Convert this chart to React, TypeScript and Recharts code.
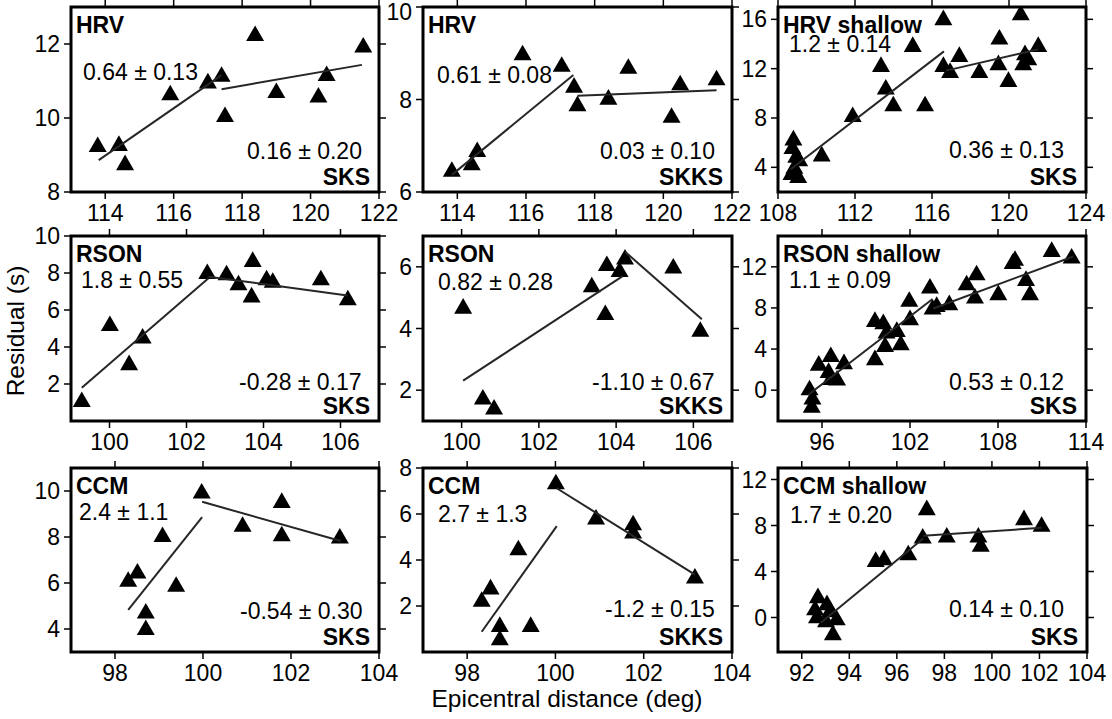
import { ComposedChart, ReferenceArea, Scatter, Symbols, XAxis, YAxis } from 'recharts';

const FONT = '"Liberation Sans", Arial, Helvetica, sans-serif';

// HRV / SKS
const hrvSksDist = [113.78, 114.4, 114.58, 115.9, 117.0, 117.4, 117.5, 118.38, 119.0, 120.23, 120.47, 121.54];
const hrvSksRes = [9.22, 9.25, 8.73, 10.62, 10.94, 11.12, 10.03, 12.22, 10.68, 10.56, 11.14, 11.91];
const hrvSksSlope = ['0.64', '0.16'];
const hrvSksErr = ['0.13', '0.20'];
const hrvSksFitStart = [[113.81, 8.86], [117.4, 10.78]];
const hrvSksFitEnd = [117.4, 121.5];

// HRV / SKKS
const hrvSkksDist = [113.84, 114.42, 114.58, 115.9, 117.04, 117.4, 117.5, 118.4, 118.98, 120.24, 120.49, 121.55];
const hrvSkksRes = [6.44, 6.58, 6.87, 8.96, 8.71, 8.26, 7.86, 8.0, 8.67, 7.61, 8.31, 8.42];
const hrvSkksSlope = ['0.61', '0.03'];
const hrvSkksErr = ['0.08', '0.10'];
const hrvSkksFitStart = [[113.84, 6.37], [117.5, 8.08]];
const hrvSkksFitEnd = [117.38, 121.55];

// HRV shallow / SKS
const hrvShDist = [108.8, 108.75, 108.95, 109.1, 108.85, 108.7, 109.05, 110.27, 111.88, 113.35, 113.6, 113.99, 115.0, 115.64, 116.59, 116.59, 116.94, 117.42, 118.46, 119.5, 119.45, 119.97, 120.61, 120.83, 120.74, 121.0, 121.52];
const hrvShRes = [6.2, 5.5, 4.8, 4.5, 3.9, 3.4, 3.15, 4.9, 8.1, 12.16, 10.32, 8.97, 13.78, 8.97, 15.95, 12.16, 11.67, 12.97, 11.67, 14.38, 12.3, 10.94, 16.35, 13.11, 12.3, 12.7, 13.78];
const hrvShSlope = ['1.2', '0.36'];
const hrvShErr = ['0.14', '0.13'];
const hrvShFitStart = [[108.66, 3.85], [116.73, 11.84]];
const hrvShFitEnd = [116.62, 121.52];

// RSON / SKS
const rsonSksDist = [99.28, 100.01, 100.51, 100.86, 102.54, 103.04, 103.35, 103.72, 103.69, 104.08, 104.24, 105.49, 106.19];
const rsonSksRes = [1.04, 5.14, 3.03, 4.47, 7.95, 7.89, 7.35, 8.61, 6.69, 7.62, 7.48, 7.62, 6.54];
const rsonSksSlope = ['1.8', '-0.28'];
const rsonSksErr = ['0.55', '0.17'];
const rsonSksFitStart = [[99.28, 1.8], [102.57, 7.8]];
const rsonSksFitEnd = [102.57, 106.18];

// RSON / SKKS
const rsonSkksDist = [100.04, 100.55, 100.84, 103.37, 103.72, 103.76, 104.09, 104.23, 105.48, 106.18];
const rsonSkksRes = [4.65, 1.7, 1.38, 5.34, 4.44, 6.03, 5.84, 6.24, 5.95, 3.9];
const rsonSkksSlope = ['0.82', '-1.10'];
const rsonSkksErr = ['0.28', '0.67'];
const rsonSkksFitStart = [[100.04, 2.31], [104.23, 6.49]];
const rsonSkksFitEnd = [104.17, 106.22];

// RSON shallow / SKS
const rsonShDist = [95.15, 95.35, 95.3, 95.78, 96.6, 97.5, 96.45, 96.6, 97.03, 99.61, 99.61, 100.18, 100.3, 100.4, 101.1, 101.37, 101.95, 102.0, 103.36, 103.54, 103.82, 104.68, 105.86, 106.54, 106.43, 108.02, 109.16, 109.0, 109.91, 110.18, 111.66, 113.02];
const rsonShRes = [0.0, -0.9, -1.7, 2.4, 3.25, 2.55, 1.7, 1.0, 0.95, 2.94, 6.66, 6.44, 4.23, 5.53, 5.69, 4.4, 8.61, 6.83, 9.91, 7.87, 8.12, 8.29, 10.23, 11.2, 8.94, 9.26, 12.6, 12.3, 10.65, 9.26, 13.47, 12.83];
const rsonShSlope = ['1.1', '0.53'];
const rsonShErr = ['0.09', '0.12'];
const rsonShFitStart = [[95.07, -0.45], [103.59, 7.95]];
const rsonShFitEnd = [103.54, 113.13];

// CCM / SKS
const ccmSksDist = [98.3, 98.51, 98.7, 98.7, 99.08, 99.39, 99.97, 100.9, 101.79, 101.79, 103.11];
const ccmSksRes = [6.06, 6.42, 4.68, 3.96, 8.01, 5.84, 9.9, 8.45, 9.49, 8.04, 7.94];
const ccmSksSlope = ['2.4', '-0.54'];
const ccmSksErr = ['1.1', '0.30'];
const ccmSksFitStart = [[98.3, 4.83], [99.98, 9.53]];
const ccmSksFitEnd = [99.98, 103.13];

// CCM / SKKS
const ccmSkksDist = [98.33, 98.53, 98.74, 98.74, 99.16, 99.44, 100.01, 100.92, 101.76, 101.76, 103.16];
const ccmSkksRes = [2.19, 2.73, 1.1, 0.52, 4.43, 1.1, 7.3, 5.77, 5.52, 5.16, 3.2];
const ccmSkksSlope = ['2.7', '-1.2'];
const ccmSkksErr = ['1.3', '0.15'];
const ccmSkksFitStart = [[98.33, 0.88], [100.03, 7.12]];
const ccmSkksFitEnd = [100.03, 103.16];

// CCM shallow / SKS
const ccmShDist = [92.68, 93.06, 92.56, 92.64, 93.19, 93.02, 93.31, 93.47, 95.11, 95.46, 96.48, 97.09, 97.26, 98.1, 99.43, 99.53, 101.35, 102.09];
const ccmShRes = [1.7, 1.09, 0.65, -0.04, 0.48, -0.4, -1.52, -0.22, 4.85, 5.0, 5.43, 6.88, 9.35, 6.97, 6.97, 6.16, 8.48, 7.9];
const ccmShSlope = ['1.7', '0.14'];
const ccmShErr = ['0.20', '0.10'];
const ccmShFitStart = [[92.8, -0.45], [97.11, 7.1]];
const ccmShFitEnd = [97.11, 102.09];

// room for the axes around each framed plot box
const AX_L = 70;
const AX_R = 30;
const AX_T = 12;
const AX_B = 45;

type PanelDef = {
  box: [number, number, number, number];
  xDomain: [number, number];
  xTicks: number[];
  yDomain: [number, number];
  yTicks: number[];
  dist: number[];
  res: number[];
  slope: string[];
  err: string[];
  fitStart: number[][];
  fitEnd: number[];
  station: string;
  phase: string;
  fitA: [number, number];
  fitB: [number, number];
};

const panels: PanelDef[] = [
  {
    box: [71, 7, 308, 185], xDomain: [113, 122], xTicks: [114, 116, 118, 120, 122], yDomain: [8, 13], yTicks: [8, 10, 12],
    dist: hrvSksDist, res: hrvSksRes, slope: hrvSksSlope, err: hrvSksErr, fitStart: hrvSksFitStart, fitEnd: hrvSksFitEnd,
    station: 'HRV', phase: 'SKS', fitA: [83, 80], fitB: [247, 159],
  },
  {
    box: [423, 7, 309, 185], xDomain: [113, 122], xTicks: [114, 116, 118, 120, 122], yDomain: [6, 10], yTicks: [6, 8, 10],
    dist: hrvSkksDist, res: hrvSkksRes, slope: hrvSkksSlope, err: hrvSkksErr, fitStart: hrvSkksFitStart, fitEnd: hrvSkksFitEnd,
    station: 'HRV', phase: 'SKKS', fitA: [437, 83], fitB: [600, 159],
  },
  {
    box: [778, 7, 308, 185], xDomain: [108, 124], xTicks: [108, 112, 116, 120, 124], yDomain: [2, 17], yTicks: [4, 8, 12, 16],
    dist: hrvShDist, res: hrvShRes, slope: hrvShSlope, err: hrvShErr, fitStart: hrvShFitStart, fitEnd: hrvShFitEnd,
    station: 'HRV shallow', phase: 'SKS', fitA: [789, 52], fitB: [949, 158],
  },
  {
    box: [71, 236, 308, 185], xDomain: [99, 107], xTicks: [100, 102, 104, 106], yDomain: [0, 10], yTicks: [2, 4, 6, 8, 10],
    dist: rsonSksDist, res: rsonSksRes, slope: rsonSksSlope, err: rsonSksErr, fitStart: rsonSksFitStart, fitEnd: rsonSksFitEnd,
    station: 'RSON', phase: 'SKS', fitA: [81, 288], fitB: [239, 390],
  },
  {
    box: [423, 236, 309, 185], xDomain: [99, 107], xTicks: [100, 102, 104, 106], yDomain: [1, 7], yTicks: [2, 4, 6],
    dist: rsonSkksDist, res: rsonSkksRes, slope: rsonSkksSlope, err: rsonSkksErr, fitStart: rsonSkksFitStart, fitEnd: rsonSkksFitEnd,
    station: 'RSON', phase: 'SKKS', fitA: [438, 290], fitB: [592, 390],
  },
  {
    box: [778, 236, 308, 185], xDomain: [93, 114], xTicks: [96, 102, 108, 114], yDomain: [-3, 15], yTicks: [0, 4, 8, 12],
    dist: rsonShDist, res: rsonShRes, slope: rsonShSlope, err: rsonShErr, fitStart: rsonShFitStart, fitEnd: rsonShFitEnd,
    station: 'RSON shallow', phase: 'SKS', fitA: [789, 288], fitB: [949, 390],
  },
  {
    box: [71, 468, 308, 184], xDomain: [97, 104], xTicks: [98, 100, 102, 104], yDomain: [3, 11], yTicks: [4, 6, 8, 10],
    dist: ccmSksDist, res: ccmSksRes, slope: ccmSksSlope, err: ccmSksErr, fitStart: ccmSksFitStart, fitEnd: ccmSksFitEnd,
    station: 'CCM', phase: 'SKS', fitA: [79, 520], fitB: [240, 619],
  },
  {
    box: [423, 468, 309, 184], xDomain: [97, 104], xTicks: [98, 100, 102, 104], yDomain: [0, 8], yTicks: [2, 4, 6, 8],
    dist: ccmSkksDist, res: ccmSkksRes, slope: ccmSkksSlope, err: ccmSkksErr, fitStart: ccmSkksFitStart, fitEnd: ccmSkksFitEnd,
    station: 'CCM', phase: 'SKKS', fitA: [438, 522], fitB: [605, 617],
  },
  {
    box: [778, 468, 309, 184], xDomain: [91, 104], xTicks: [92, 94, 96, 98, 100, 102, 104], yDomain: [-3, 13], yTicks: [0, 4, 8, 12],
    dist: ccmShDist, res: ccmShRes, slope: ccmShSlope, err: ccmShErr, fitStart: ccmShFitStart, fitEnd: ccmShFitEnd,
    station: 'CCM shallow', phase: 'SKS', fitA: [790, 523], fitB: [949, 617],
  },
];

const tickText = { fill: '#000', fontSize: 23, fontFamily: FONT };
const tickLine = { stroke: '#000', strokeWidth: 1.5 };
const blank = () => '';
const noDot = () => <g />;

// filled triangle marker, ~18px across
const triangle = (props: any) => (
  <Symbols cx={props.cx} cy={props.cy} type="triangle" size={140} fill="#000" />
);

// left tick label, pushed down a little when it would run off the top of the page
const leftTick = (minY: number) => (props: any) => {
  const { x, y, payload } = props;
  return (
    <text x={x} y={Math.max(y, minY)} dy="0.355em" textAnchor="end" {...tickText}>
      {payload.value}
    </text>
  );
};

function Panel({ p }: { p: PanelDef }) {
  const [left, top, w, h] = p.box;
  const chartTop = top - AX_T;
  const points = p.dist.map((x, i) => ({ x, y: p.res[i] }));
  const segments = p.slope.map((s, i) => {
    const [x0, y0] = p.fitStart[i];
    const x1 = p.fitEnd[i];
    return [
      { x: x0, y: y0 },
      { x: x1, y: y0 + Number(s) * (x1 - x0) },
    ];
  });

  return (
    <div style={{ position: 'absolute', left: left - AX_L, top: chartTop }}>
      <ComposedChart
        width={w + AX_L + AX_R}
        height={h + AX_T + AX_B}
        margin={{ top: 0, right: 0, bottom: 0, left: 0 }}
      >
        <XAxis
          xAxisId="b" dataKey="x" type="number" domain={p.xDomain} ticks={p.xTicks} allowDataOverflow interval={0}
          height={AX_B} axisLine={false} tickLine={tickLine} tickSize={7} tickMargin={6} tick={tickText}
        />
        <XAxis
          xAxisId="t" orientation="top" dataKey="x" type="number" domain={p.xDomain} ticks={p.xTicks} allowDataOverflow interval={0}
          height={AX_T} axisLine={false} tickLine={tickLine} tickSize={7} tickFormatter={blank}
        />
        <YAxis
          yAxisId="l" dataKey="y" type="number" domain={p.yDomain} ticks={p.yTicks} allowDataOverflow interval={0}
          width={AX_L} axisLine={false} tickLine={tickLine} tickSize={7} tickMargin={4} tick={leftTick(11.5 - chartTop)}
        />
        <YAxis
          yAxisId="r" orientation="right" dataKey="y" type="number" domain={p.yDomain} ticks={p.yTicks} allowDataOverflow interval={0}
          width={AX_R} axisLine={false} tickLine={tickLine} tickSize={7} tickFormatter={blank}
        />
        <Scatter xAxisId="b" yAxisId="l" data={points} shape={triangle} isAnimationActive={false} />
        {segments.map((seg, i) => (
          <Scatter
            key={i} xAxisId="b" yAxisId="l" data={seg} shape={noDot}
            line={{ stroke: '#262626', strokeWidth: 2 }} isAnimationActive={false}
          />
        ))}
        <ReferenceArea
          xAxisId="b" yAxisId="l" x1={p.xDomain[0]} x2={p.xDomain[1]} y1={p.yDomain[0]} y2={p.yDomain[1]}
          fill="none" stroke="#000" strokeWidth={3} ifOverflow="visible"
        />
      </ComposedChart>
    </div>
  );
}

export default function App() {
  return (
    <div style={{ position: 'absolute', left: 0, top: 0, width: 1112, height: 719, background: '#fff', overflow: 'hidden' }}>
      {panels.map((p, i) => (
        <Panel key={i} p={p} />
      ))}
      <svg width={1112} height={719} style={{ position: 'absolute', left: 0, top: 0, pointerEvents: 'none' }}>
        <g fontFamily={FONT} fontSize={23} fill="#000">
          {panels.map((p, i) => {
            const [left, top, w, h] = p.box;
            return (
              <g key={i}>
                <text x={left + 5} y={top + 26} fontWeight="bold">{p.station}</text>
                <text x={p.fitA[0]} y={p.fitA[1]}>{`${p.slope[0]} \u00b1 ${p.err[0]}`}</text>
                <text x={p.fitB[0]} y={p.fitB[1]}>{`${p.slope[1]} \u00b1 ${p.err[1]}`}</text>
                <text x={left + w - 9} y={top + h - 7} fontWeight="bold" textAnchor="end">{p.phase}</text>
              </g>
            );
          })}
          <text x={567} y={707} fontSize={24.5} textAnchor="middle">Epicentral distance (deg)</text>
          <text transform="translate(24 331) rotate(-90)" fontSize={24.5} textAnchor="middle">Residual (s)</text>
        </g>
      </svg>
    </div>
  );
}
